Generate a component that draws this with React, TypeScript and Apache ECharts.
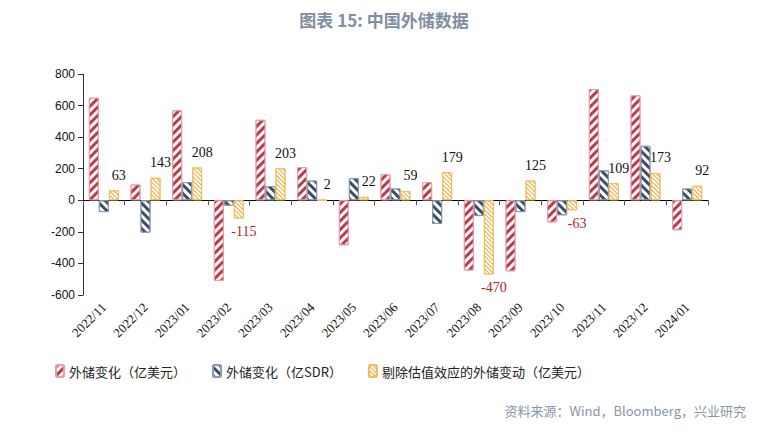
import { useEffect, useRef } from 'react';
import * as echarts from 'echarts';

const categories = ['2022/11', '2022/12', '2023/01', '2023/02', '2023/03', '2023/04', '2023/05', '2023/06', '2023/07', '2023/08', '2023/09', '2023/10', '2023/11', '2023/12', '2024/01'];
const usdChange = [650, 100, 570, -510, 510, 210, -285, 165, 115, -445, -450, -140, 705, 665, -190];
const sdrChange = [-75, -205, 115, -35, 90, 125, 140, 75, -150, -100, -75, -95, 190, 345, 75];
const exValuation = [63, 143, 208, -115, 203, 2, 22, 59, 179, -470, 125, -63, 109, 173, 92];
const yTicks = { min: -600, max: 800, interval: 200 };

const FONT = '"Noto Sans CJK SC", "Noto Sans", sans-serif';

export default function App() {
  const ref = useRef<HTMLDivElement>(null);

  useEffect(() => {
    if (!ref.current) return;
    const chart = echarts.init(ref.current, undefined, { renderer: 'svg' });
    chart.setOption({
      animation: false,
      title: {
        text: '图表 15: 中国外储数据',
        left: 'center',
        top: -2,
        textStyle: { color: '#7f8ea3', fontSize: 17, fontWeight: 'bold', fontFamily: FONT },
      },
      graphic: [
        {
          type: 'text',
          right: 14,
          top: 396,
          style: { text: '资料来源：Wind，Bloomberg，兴业研究', fill: '#8a96a8', fontSize: 13, fontFamily: FONT },
        },
      ],
      legend: {
        top: 351,
        left: 42,
        itemWidth: 8,
        itemHeight: 12,
        itemGap: 26,
        textStyle: { fontSize: 13, fontFamily: FONT, color: '#222' },
      },
      grid: { left: 75, right: 52, top: 66, height: 221 },
      xAxis: {
        type: 'category',
        data: categories,
        axisLine: { onZero: true, lineStyle: { color: '#000' } },
        axisTick: { show: true, lineStyle: { color: '#555' } },
        axisLabel: {
          rotate: 45,
          interval: 0,
          color: '#111',
          fontSize: 13,
          fontFamily: '"Liberation Serif", serif',
          margin: 10,
        },
      },
      yAxis: {
        type: 'value',
        ...yTicks,
        axisLine: { show: true, lineStyle: { color: '#333' } },
        axisTick: { show: true },
        splitLine: { show: false },
        axisLabel: { color: '#111', fontSize: 12, fontFamily: '"Liberation Sans", sans-serif' },
      },
      series: [
        {
          name: '外储变化（亿美元）',
          type: 'bar',
          data: usdChange,
          barWidth: 10,
          barGap: '0%',
          itemStyle: {
            color: '#fff',
            borderColor: '#e8a0a8',
            borderWidth: 1,
            decal: { color: '#c0394b', dashArrayX: [1, 0], dashArrayY: [3, 3], rotation: -Math.PI / 4, symbol: 'rect' },
          },
        },
        {
          name: '外储变化（亿SDR）',
          type: 'bar',
          data: sdrChange,
          barWidth: 10,
          itemStyle: {
            color: '#fff',
            borderColor: '#8a9ab0',
            borderWidth: 1,
            decal: { color: '#3e4d66', dashArrayX: [1, 0], dashArrayY: [3, 3], rotation: Math.PI / 4, symbol: 'rect' },
          },
        },
        {
          name: '剔除估值效应的外储变动（亿美元）',
          type: 'bar',
          data: exValuation.map((v) => ({
            value: v,
            label: { position: v < 0 ? 'bottom' : 'top', color: v < 0 ? '#b22222' : '#111', distance: v < 0 ? 6 : 8 },
          })),
          barWidth: 10,
          label: { show: true, fontSize: 14, fontFamily: '"Liberation Serif", serif', offset: [5, 0] },
          itemStyle: {
            color: '#fff',
            borderColor: '#f0c060',
            borderWidth: 1,
            decal: { color: '#e3a838', dashArrayX: [1, 0], dashArrayY: [1, 2], rotation: Math.PI / 4, symbol: 'rect' },
          },
        },
      ],
    });
    return () => chart.dispose();
  }, []);

  return <div ref={ref} style={{ width: 752, height: 420, background: '#fff' }} />;
}
